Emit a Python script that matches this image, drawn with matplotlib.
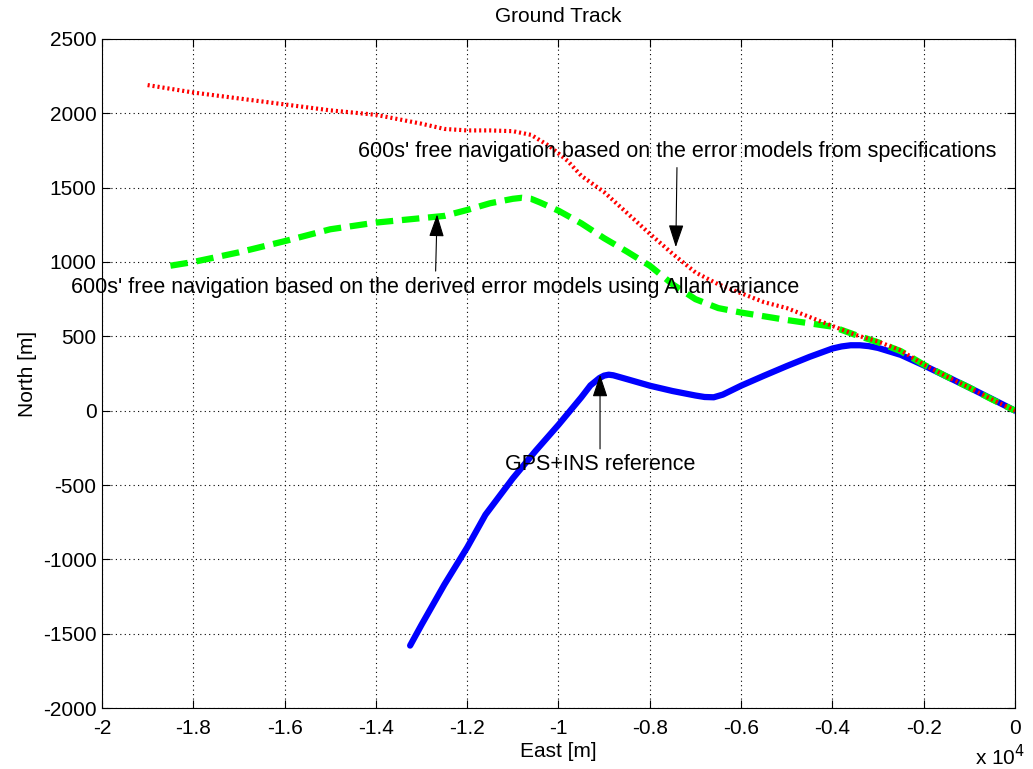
import numpy as np
import matplotlib
matplotlib.use("Agg")
import matplotlib.pyplot as plt
from matplotlib.ticker import FixedLocator, FuncFormatter

plt.rcParams['font.family'] = ['Liberation Sans', 'DejaVu Sans']
plt.rcParams['axes.unicode_minus'] = False

# GPS+INS reference track (east / north in metres)
ref_east = [-13250, -13000, -12500, -12000, -11600, -11000, -10500, -10000, -9500,
            -9300, -9100, -9000, -8900, -8800, -8500, -8000, -7500, -7000, -6800,
            -6600, -6400, -6000, -5500, -5000, -4500, -4000, -3800, -3600, -3400,
            -3200, -3000, -2500, -2000, -1500, -1000, -500, 0]
ref_north = [-1580, -1440, -1170, -920, -700, -455, -270, -95, 90,
             170, 220, 236, 242, 238, 212, 168, 132, 102, 92,
             90, 108, 168, 235, 300, 362, 418, 432, 440, 440,
             434, 422, 375, 305, 230, 155, 78, 0]

# free navigation, error models from specifications
spec_east = [-19000, -18000, -17000, -16000, -15000, -14000, -13000, -12500, -12000,
             -11500, -11000, -10600, -10200, -9800, -9500, -9000, -8500, -8000, -7500,
             -7000, -6500, -6000, -5500, -5000, -4500, -4000, -3500, -3000, -2500,
             -2000, -1500, -1000, -500, 0]
spec_north = [2190, 2140, 2100, 2060, 2020, 1990, 1930, 1895, 1885,
              1885, 1880, 1855, 1780, 1680, 1580, 1470, 1330, 1190, 1055,
              930, 850, 790, 730, 690, 630, 570, 510, 465, 405,
              310, 230, 155, 75, 0]

# free navigation, derived error models (Allan variance)
allan_east = [-18500, -18000, -17000, -16000, -15000, -14000, -13000, -12500, -12000,
              -11500, -11000, -10800, -10600, -10400, -10000, -9500, -9000, -8500,
              -8000, -7500, -7000, -6500, -6000, -5000, -4000, -3500, -3000, -2500,
              -2000, -1500, -1000, -500, 0]
allan_north = [975, 1000, 1065, 1140, 1220, 1265, 1295, 1310, 1350,
               1395, 1425, 1432, 1425, 1400, 1345, 1260, 1160, 1070,
               975, 850, 750, 690, 660, 610, 565, 510, 460, 400,
               310, 230, 155, 75, 0]

x_ticks = [-20000, -18000, -16000, -14000, -12000, -10000, -8000, -6000, -4000, -2000, 0]
y_ticks = [-2000, -1500, -1000, -500, 0, 500, 1000, 1500, 2000, 2500]

fig = plt.figure(figsize=(10.33, 7.69), dpi=100)
ax = fig.add_axes([0.0987, 0.0793, 0.8839, 0.870])

ax.plot(ref_east, ref_north, color=(0, 0, 1), lw=4.5, solid_capstyle='round',
        solid_joinstyle='round', zorder=3)
ax.plot(allan_east, allan_north, color=(0, 1, 0), lw=4.5, dashes=(2.8, 1.4), zorder=4)
ax.plot(spec_east, spec_north, color=(1, 0, 0), lw=3, dashes=(0.5, 0.7), zorder=5)

ax.set_xlim(-20000, 0)
ax.set_ylim(-2000, 2500)
ax.xaxis.set_major_locator(FixedLocator(x_ticks))
ax.yaxis.set_major_locator(FixedLocator(y_ticks))
ax.xaxis.set_major_formatter(FuncFormatter(lambda v, p: f"{v / 1e4:g}"))
ax.tick_params(direction='in', top=True, right=True, length=6, labelsize=15)
ax.tick_params(axis='x', pad=8)
ax.tick_params(axis='y', pad=4)
ax.grid(True, color='black', ls=(0, (1, 3)), lw=0.8)
for s in ax.spines.values():
    s.set_linewidth(0.8)

ax.set_title("Ground Track", fontsize=15, pad=12)
ax.set_xlabel("East [m]", fontsize=15, labelpad=3)
ax.set_ylabel("North [m]", fontsize=15, labelpad=4)
ax.text(1.011, -0.072, r"x 10$^4$", transform=ax.transAxes, ha='right', va='center',
        fontsize=15)

arrow = dict(arrowstyle='-|>,head_length=0.9,head_width=0.3', color='black',
             lw=0.8, shrinkA=2, shrinkB=0)
ax.annotate("600s' free navigation based on the error models from specifications",
            xy=(-7430, 1100), xytext=(-7400, 1743), ha='center', va='center',
            fontsize=15.5, arrowprops=arrow, zorder=6)
ax.annotate("600s' free navigation based on the derived error models using Allan variance",
            xy=(-12660, 1320), xytext=(-12700, 831), ha='center', va='center',
            fontsize=15.5, arrowprops=arrow, zorder=6)
ax.annotate("GPS+INS reference",
            xy=(-9090, 243), xytext=(-9090, -365), ha='center', va='center',
            fontsize=15.5, arrowprops=arrow, zorder=6)

fig.savefig("out.png", dpi=100)
